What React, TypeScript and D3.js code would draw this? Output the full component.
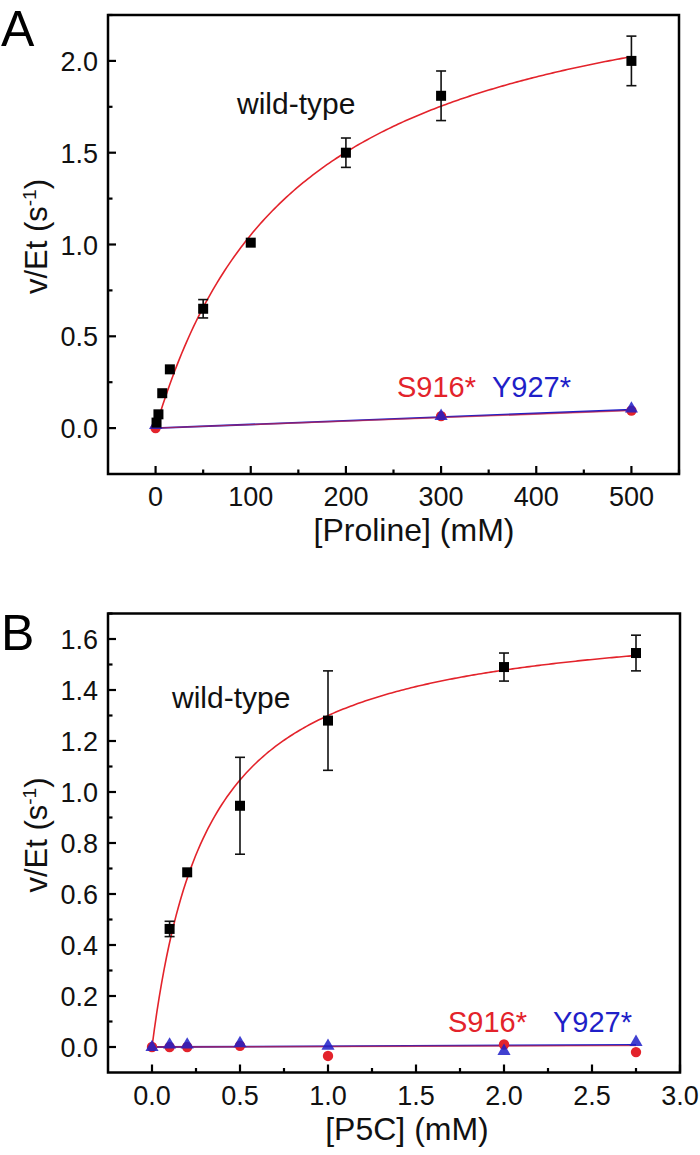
import React from "react";
import * as d3 from "d3";

// ---------- Data ----------
// Panel A: proline
const aWildX = [1, 3, 7, 15, 50, 100, 200, 300, 500];
const aWildY = [0.03, 0.075, 0.19, 0.32, 0.65, 1.01, 1.5, 1.81, 2.0];
const aWildErr = [0, 0, 0, 0, 0.05, 0, 0.08, 0.135, 0.135];
const aMutX = [0, 300, 500];
const aS916Y = [0.0, 0.065, 0.095];
const aY927Y = [0.01, 0.06, 0.1];
const aFitVmax = 2.63;
const aFitKm = 150;
const aS916Slope = 0.00019;
const aY927Slope = 0.0002;
const aXTicks = [0, 100, 200, 300, 400, 500];
const aYTicks = [0.0, 0.5, 1.0, 1.5, 2.0];

// Panel B: P5C
const bWildX = [0.1, 0.2, 0.5, 1.0, 2.0, 2.75];
const bWildY = [0.463, 0.685, 0.946, 1.28, 1.49, 1.545];
const bWildErr = [0.03, 0, 0.19, 0.195, 0.055, 0.07];
const bMutX = [0, 0.1, 0.2, 0.5, 1.0, 2.0, 2.75];
const bS916Y = [0.0, 0.0, 0.0, 0.005, -0.035, 0.01, -0.02];
const bY927Y = [-0.005, 0.005, 0.005, 0.01, 0.0, -0.02, 0.015];
const bFitVmax = 1.713;
const bFitKm = 0.318;
const bS916Slope = 0.002;
const bY927Slope = 0.003;
const bXTicks = [0.0, 0.5, 1.0, 1.5, 2.0, 2.5, 3.0];
const bYTicks = [0.0, 0.2, 0.4, 0.6, 0.8, 1.0, 1.2, 1.4, 1.6];

const RED = "#e3232b";
const BLUE = "#1f1fc8";
const FONT = "Liberation Sans, Arial, sans-serif";

type PanelProps = {
  letter: string;
  letterY: number;
  left: number;
  right: number;
  top: number;
  bottom: number;
  xDomain: [number, number];
  yDomain: [number, number];
  xTicks: number[];
  yTicks: number[];
  xMinorStep: number;
  yMinorStep: number;
  xFmt: (v: number) => string;
  yFmt: (v: number) => string;
  wildX: number[];
  wildY: number[];
  wildErr: number[];
  mutX: number[];
  s916Y: number[];
  y927Y: number[];
  s916Slope: number;
  y927Slope: number;
  vmax: number;
  km: number;
  fitMax: number;
  xTitle: string;
  xTitleX: number;
  wtPos: [number, number];
  s916Pos: [number, number];
  y927Pos: [number, number];
};

function Panel(p: PanelProps) {
  const x = d3.scaleLinear().domain(p.xDomain).range([p.left, p.right]);
  const y = d3.scaleLinear().domain(p.yDomain).range([p.bottom, p.top]);

  const xMinor = d3
    .range(p.xTicks[0], p.xDomain[1] + 1e-9, p.xMinorStep)
    .filter((v) => !p.xTicks.some((t) => Math.abs(t - v) < 1e-9));
  const yMinor = d3
    .range(p.yTicks[0], p.yDomain[1] + 1e-9, p.yMinorStep)
    .filter((v) => !p.yTicks.some((t) => Math.abs(t - v) < 1e-9));

  const fitPts = d3.range(0, 201).map((i) => {
    const xv = (p.fitMax * i) / 200;
    return [xv, (p.vmax * xv) / (p.km + xv)] as [number, number];
  });
  const line = d3
    .line<[number, number]>()
    .x((d) => x(d[0]))
    .y((d) => y(d[1]));

  const mutS = p.mutX.map((v, i) => [v, p.s916Y[i]] as [number, number]);
  const mutY = p.mutX.map((v, i) => [v, p.y927Y[i]] as [number, number]);
  const xEnd = p.mutX[p.mutX.length - 1];
  const sLine: [number, number][] = [
    [0, 0],
    [xEnd, p.s916Slope * xEnd],
  ];
  const yLine: [number, number][] = [
    [0, 0],
    [xEnd, p.y927Slope * xEnd],
  ];

  const MAJ = 8;
  const MIN = 4.5;
  const tri = d3.symbol().type(d3.symbolTriangle).size(75);

  return (
    <g>
      <text x={1} y={p.letterY} fontSize={50} fontFamily={FONT}>
        {p.letter}
      </text>
      {/* fit curves */}
      <path d={line(fitPts) || ""} fill="none" stroke={RED} strokeWidth={1.6} />
      <path d={line(yLine) || ""} fill="none" stroke={BLUE} strokeWidth={1.8} />
      <path d={line(sLine) || ""} fill="none" stroke={RED} strokeWidth={1.4} opacity={0.6} />
      {/* mutant markers */}
      {mutS.map((d, i) => (
        <circle key={"c" + i} cx={x(d[0])} cy={y(d[1])} r={5.2} fill={RED} />
      ))}
      {mutY.map((d, i) => (
        <path
          key={"t" + i}
          d={tri() || ""}
          transform={`translate(${x(d[0])},${y(d[1]) - 1})`}
          fill={BLUE}
          opacity={0.85}
        />
      ))}
      {/* wild-type */}
      {p.wildX.map((xv, i) =>
        p.wildErr[i] > 0 ? (
          <g key={"e" + i} stroke="#111" strokeWidth={1.6}>
            <line x1={x(xv)} x2={x(xv)} y1={y(p.wildY[i] - p.wildErr[i])} y2={y(p.wildY[i] + p.wildErr[i])} />
            <line x1={x(xv) - 5} x2={x(xv) + 5} y1={y(p.wildY[i] - p.wildErr[i])} y2={y(p.wildY[i] - p.wildErr[i])} />
            <line x1={x(xv) - 5} x2={x(xv) + 5} y1={y(p.wildY[i] + p.wildErr[i])} y2={y(p.wildY[i] + p.wildErr[i])} />
          </g>
        ) : null
      )}
      {p.wildX.map((xv, i) => (
        <rect key={"s" + i} x={x(xv) - 5} y={y(p.wildY[i]) - 5} width={10} height={10} fill="#000" />
      ))}
      {/* frame */}
      <rect
        x={p.left}
        y={p.top}
        width={p.right - p.left}
        height={p.bottom - p.top}
        fill="none"
        stroke="#000"
        strokeWidth={2.5}
      />
      {/* ticks */}
      <g stroke="#000" strokeWidth={2.2}>
        {p.xTicks.map((t) => (
          <line key={"xt" + t} x1={x(t)} x2={x(t)} y1={p.bottom} y2={p.bottom - MAJ} />
        ))}
        {xMinor.map((t) => (
          <line key={"xm" + t} x1={x(t)} x2={x(t)} y1={p.bottom} y2={p.bottom - MIN} />
        ))}
        {p.yTicks.map((t) => (
          <line key={"yt" + t} x1={p.left} x2={p.left + MAJ} y1={y(t)} y2={y(t)} />
        ))}
        {yMinor.map((t) => (
          <line key={"ym" + t} x1={p.left} x2={p.left + MIN} y1={y(t)} y2={y(t)} />
        ))}
      </g>
      <g fontFamily={FONT} fontSize={27} fill="#111">
        {p.xTicks.map((t) => (
          <text key={"xl" + t} x={x(t)} y={p.bottom + 32} textAnchor="middle">
            {p.xFmt(t)}
          </text>
        ))}
        {p.yTicks.map((t) => (
          <text key={"yl" + t} x={p.left - 10} y={y(t) + 10} textAnchor="end">
            {p.yFmt(t)}
          </text>
        ))}
      </g>
      {/* axis titles */}
      <text
        x={p.xTitleX}
        y={p.bottom + 67}
        textAnchor="middle"
        fontFamily={FONT}
        fontSize={32}
        fill="#111"
      >
        {p.xTitle}
      </text>
      <text
        transform={`translate(47,${(p.top + p.bottom) / 2 - 8}) rotate(-90)`}
        textAnchor="middle"
        fontFamily={FONT}
        fontSize={31}
        fill="#111"
      >
        v/Et (s
        <tspan dy={-11} fontSize={19}>
          -1
        </tspan>
        <tspan dy={11}>)</tspan>
      </text>
      {/* labels */}
      <g fontFamily={FONT} fontSize={29}>
        <text x={p.wtPos[0]} y={p.wtPos[1]} fill="#111" fontSize={30}>
          wild-type
        </text>
        <text x={p.s916Pos[0]} y={p.s916Pos[1]} fill={RED}>
          S916*
        </text>
        <text x={p.y927Pos[0]} y={p.y927Pos[1]} fill={BLUE}>
          Y927*
        </text>
      </g>
    </g>
  );
}

export default function App() {
  return (
    <svg
      width={700}
      height={1155}
      style={{ position: "absolute", left: 0, top: 0, background: "#fff" }}
    >
      <rect width={700} height={1155} fill="#fff" />
      <Panel
        letter="A"
        letterY={46}
        left={108}
        right={679}
        top={15}
        bottom={474}
        xDomain={[-50, 550]}
        yDomain={[-0.25, 2.25]}
        xTicks={aXTicks}
        yTicks={aYTicks}
        xMinorStep={50}
        yMinorStep={0.25}
        xFmt={(v) => d3.format("d")(v)}
        yFmt={(v) => d3.format(".1f")(v)}
        wildX={aWildX}
        wildY={aWildY}
        wildErr={aWildErr}
        mutX={aMutX}
        s916Y={aS916Y}
        y927Y={aY927Y}
        s916Slope={aS916Slope}
        y927Slope={aY927Slope}
        vmax={aFitVmax}
        km={aFitKm}
        fitMax={500}
        xTitle="[Proline] (mM)"
        xTitleX={414}
        wtPos={[237, 114]}
        s916Pos={[397, 397]}
        y927Pos={[492, 397]}
      />
      <Panel
        letter="B"
        letterY={650}
        left={108}
        right={680}
        top={613.5}
        bottom={1072.5}
        xDomain={[-0.25, 3.0]}
        yDomain={[-0.1, 1.7]}
        xTicks={bXTicks}
        yTicks={bYTicks}
        xMinorStep={0.25}
        yMinorStep={0.1}
        xFmt={(v) => d3.format(".1f")(v)}
        yFmt={(v) => d3.format(".1f")(v)}
        wildX={bWildX}
        wildY={bWildY}
        wildErr={bWildErr}
        mutX={bMutX}
        s916Y={bS916Y}
        y927Y={bY927Y}
        s916Slope={bS916Slope}
        y927Slope={bY927Slope}
        vmax={bFitVmax}
        km={bFitKm}
        fitMax={2.75}
        xTitle="[P5C] (mM)"
        xTitleX={407}
        wtPos={[172, 708]}
        s916Pos={[448, 1032]}
        y927Pos={[553, 1032]}
      />
    </svg>
  );
}
